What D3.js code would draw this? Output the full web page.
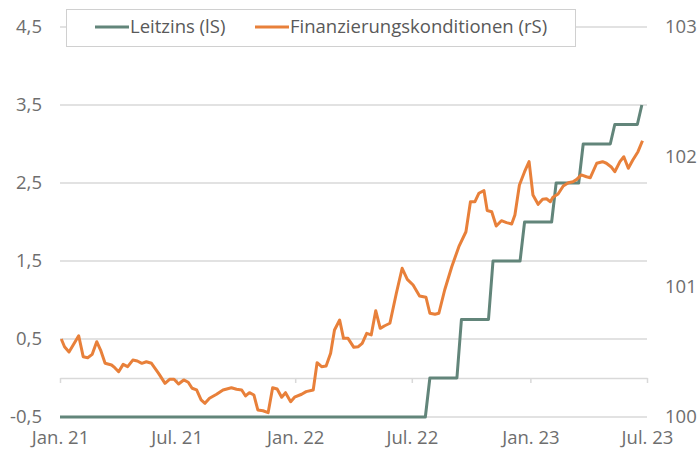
<!DOCTYPE html>
<html>
<head>
<meta charset="utf-8">
<script src="https://cdn.jsdelivr.net/npm/d3@7"></script>
<style>
  body { margin: 0; background: #fff; }
  svg text { font-family: "Open Sans", "Noto Sans", sans-serif; }
</style>
</head>
<body>
<div id="chart"></div>
<script>
// Leitzins (linke Skala), Stützpunkte der Stufen
const leitzinsDates = ["2021-01-01", "2022-07-22", "2022-07-29", "2022-09-09", "2022-09-16", "2022-10-28", "2022-11-04", "2022-12-16", "2022-12-23", "2023-02-03", "2023-02-10", "2023-03-17", "2023-03-24", "2023-05-05", "2023-05-12", "2023-06-16", "2023-06-23"];
const leitzinsValues = [-0.5, -0.5, 0, 0, 0.75, 0.75, 1.5, 1.5, 2.0, 2.0, 2.5, 2.5, 3.0, 3.0, 3.25, 3.25, 3.5];

// Finanzierungskonditionen (rechte Skala)
const finDates = [
  "2021-01-03", "2021-01-08", "2021-01-15", "2021-01-21", "2021-01-30", "2021-02-06", "2021-02-13", "2021-02-20", "2021-02-27", "2021-03-05",
  "2021-03-12", "2021-03-22", "2021-03-27", "2021-04-02", "2021-04-09", "2021-04-16", "2021-04-24", "2021-05-01", "2021-05-08", "2021-05-15",
  "2021-05-23", "2021-06-03", "2021-06-13", "2021-06-20", "2021-06-27", "2021-07-04", "2021-07-12", "2021-07-19", "2021-07-25", "2021-08-01",
  "2021-08-08", "2021-08-14", "2021-08-21", "2021-09-01", "2021-09-11", "2021-09-24", "2021-10-02", "2021-10-10", "2021-10-16", "2021-10-22",
  "2021-10-29", "2021-11-04", "2021-11-12", "2021-11-20", "2021-11-27", "2021-12-04", "2021-12-11", "2021-12-17", "2021-12-25", "2021-12-31",
  "2022-01-11", "2022-01-18", "2022-01-29", "2022-02-04", "2022-02-11", "2022-02-18", "2022-02-25", "2022-03-03", "2022-03-11", "2022-03-17",
  "2022-03-24", "2022-04-02", "2022-04-09", "2022-04-15", "2022-04-22", "2022-04-29", "2022-05-06", "2022-05-13", "2022-05-20", "2022-05-28",
  "2022-06-07", "2022-06-16", "2022-06-24", "2022-07-03", "2022-07-13", "2022-07-23", "2022-07-29", "2022-08-06", "2022-08-12", "2022-08-21",
  "2022-09-01", "2022-09-12", "2022-09-23", "2022-09-30", "2022-10-07", "2022-10-13", "2022-10-21", "2022-10-26", "2022-11-02", "2022-11-09",
  "2022-11-17", "2022-11-25", "2022-12-03", "2022-12-08", "2022-12-15", "2022-12-23", "2022-12-30", "2023-01-05", "2023-01-13", "2023-01-20",
  "2023-01-26", "2023-02-01", "2023-02-05", "2023-02-13", "2023-02-21", "2023-03-01", "2023-03-08", "2023-03-14", "2023-03-21", "2023-03-29",
  "2023-04-04", "2023-04-14", "2023-04-23", "2023-04-29", "2023-05-07", "2023-05-12", "2023-05-20", "2023-05-26", "2023-06-02", "2023-06-09",
  "2023-06-17", "2023-06-24"
];
const finValues = [
  100.60, 100.54, 100.50, 100.55, 100.625, 100.464, 100.456, 100.482, 100.579, 100.515,
  100.413, 100.40, 100.379, 100.348, 100.405, 100.387, 100.438, 100.431, 100.413, 100.425,
  100.413, 100.336, 100.259, 100.29, 100.29, 100.254, 100.285, 100.267, 100.221, 100.208,
  100.131, 100.105, 100.144, 100.175, 100.208, 100.225, 100.213, 100.208, 100.162, 100.187,
  100.169, 100.054, 100.048, 100.033, 100.225, 100.215, 100.152, 100.187, 100.118, 100.152,
  100.175, 100.195, 100.208, 100.418, 100.387, 100.392, 100.49, 100.669, 100.746, 100.605,
  100.605, 100.536, 100.541, 100.567, 100.644, 100.631, 100.818, 100.682, 100.702, 100.721,
  100.952, 101.144, 101.059, 101.015, 100.931, 100.921, 100.798, 100.79, 100.798, 100.977,
  101.156, 101.31, 101.425, 101.656, 101.656, 101.721, 101.741, 101.588, 101.579, 101.469,
  101.51, 101.495, 101.485, 101.554, 101.785, 101.887, 101.964, 101.708, 101.636, 101.675,
  101.679, 101.656, 101.69, 101.715, 101.777, 101.802, 101.81, 101.828, 101.862, 101.848,
  101.841, 101.952, 101.964, 101.952, 101.921, 101.887, 101.964, 102.002, 101.913, 101.977,
  102.041, 102.125
];

const xTickDates = ["2021-01-01", "2021-07-01", "2022-01-01", "2022-07-01", "2023-01-01", "2023-07-01"];
const xTickLabels = ["Jan. 21", "Jul. 21", "Jan. 22", "Jul. 22", "Jan. 23", "Jul. 23"];
const leftTicks = [-0.5, 0.5, 1.5, 2.5, 3.5, 4.5];
const leftTickLabels = ["-0,5", "0,5", "1,5", "2,5", "3,5", "4,5"];
const rightTicks = [100, 101, 102, 103];
const seriesNames = ["Leitzins (lS)", "Finanzierungskonditionen (rS)"];
const colors = ["#62857a", "#e8803a"];

let w = 699,
  h = 455;
let parse = d3.timeParse("%Y-%m-%d");
let textColor = "#6e6e6e";
let gridColor = "#d9d9d9";
let fontSize = 18.5;

let x = d3.scaleTime().domain([parse(xTickDates[0]), parse(xTickDates[xTickDates.length - 1])]).range([60, 647]);
let yL = d3.scaleLinear().domain([-0.5, 4.5]).range([417, 27]);
let yR = d3.scaleLinear().domain([100, 103]).range([417, 27]);

let svg = d3.select("#chart").append("svg").attr("width", w).attr("height", h);

// horizontal grid
svg
  .append("g")
  .selectAll("line")
  .data(leftTicks)
  .enter()
  .append("line")
  .attr("x1", x.range()[0])
  .attr("x2", x.range()[1])
  .attr("y1", function (d) { return yL(d); })
  .attr("y2", function (d) { return yL(d); })
  .attr("stroke", gridColor)
  .attr("stroke-width", 1.5);

// x axis on the zero line
let xAxis = svg
  .append("g")
  .attr("transform", "translate(0," + yL(0) + ")")
  .call(d3.axisBottom(x).tickValues(xTickDates.map(parse)).tickSize(5).tickSizeOuter(0).tickFormat(""));
xAxis.selectAll("path, line").attr("stroke", gridColor).attr("stroke-width", 1.5);

// x labels at the bottom
let xLab = svg
  .append("g")
  .attr("transform", "translate(0," + 428 + ")")
  .call(
    d3
      .axisBottom(x)
      .tickValues(xTickDates.map(parse))
      .tickSize(0)
      .tickFormat(function (d, i) { return xTickLabels[i]; })
  );
xLab.select(".domain").remove();
xLab.selectAll("text").attr("font-size", fontSize).attr("fill", textColor).attr("font-family", "Open Sans");

// left axis
let yLAxis = svg
  .append("g")
  .attr("transform", "translate(42,0)")
  .call(
    d3
      .axisLeft(yL)
      .tickValues(leftTicks)
      .tickSize(0)
      .tickFormat(function (d, i) { return leftTickLabels[i]; })
  );
yLAxis.select(".domain").remove();
yLAxis.selectAll("text").attr("font-size", fontSize).attr("fill", textColor).attr("font-family", "Open Sans").attr("x", 0);

// right axis
let yRAxis = svg
  .append("g")
  .attr("transform", "translate(665,0)")
  .call(d3.axisRight(yR).tickValues(rightTicks).tickSize(0).tickFormat(d3.format("d")));
yRAxis.select(".domain").remove();
yRAxis.selectAll("text").attr("font-size", fontSize).attr("fill", textColor).attr("font-family", "Open Sans").attr("x", 0);

// lines
let lineL = d3
  .line()
  .x(function (d) { return x(d[0]); })
  .y(function (d) { return yL(d[1]); });
let lineR = d3
  .line()
  .x(function (d) { return x(d[0]); })
  .y(function (d) { return yR(d[1]); });

let leitzins = leitzinsDates.map(function (d, i) { return [parse(d), leitzinsValues[i]]; });
let fin = finDates.map(function (d, i) { return [parse(d), finValues[i]]; });

svg
  .append("path")
  .datum(leitzins)
  .attr("d", lineL)
  .attr("fill", "none")
  .attr("stroke", colors[0])
  .attr("stroke-width", 3)
  .attr("stroke-linejoin", "round");

svg
  .append("path")
  .datum(fin)
  .attr("d", lineR)
  .attr("fill", "none")
  .attr("stroke", colors[1])
  .attr("stroke-width", 3)
  .attr("stroke-linejoin", "round");

// legend
let legend = svg.append("g");
legend
  .append("rect")
  .attr("x", 66.5)
  .attr("y", 9.5)
  .attr("width", 509)
  .attr("height", 37)
  .attr("fill", "#fff")
  .attr("stroke", "#d0d0d0");

let legX = [95, 255];
seriesNames.forEach(function (name, i) {
  legend
    .append("line")
    .attr("x1", legX[i])
    .attr("x2", legX[i] + 34)
    .attr("y1", 27)
    .attr("y2", 27)
    .attr("stroke", colors[i])
    .attr("stroke-width", 3);
  legend
    .append("text")
    .attr("x", legX[i] + 35)
    .attr("y", 27)
    .attr("dy", ".35em")
    .attr("font-size", fontSize)
    .attr("fill", "#595959")
    .text(name);
});
</script>
</body>
</html>
